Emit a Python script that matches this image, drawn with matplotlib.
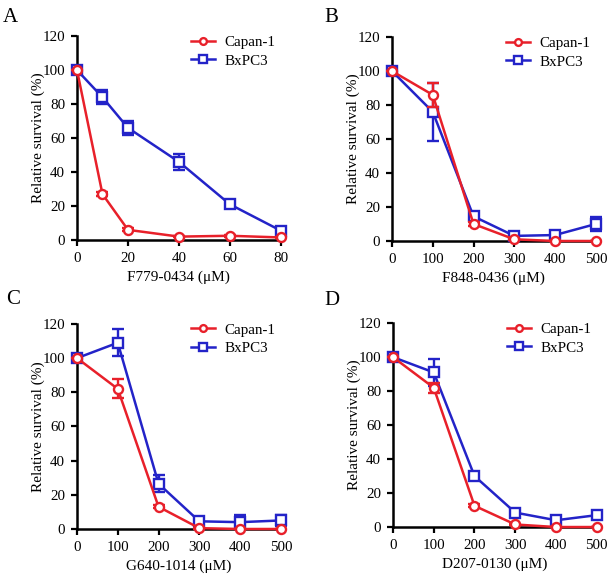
import matplotlib
matplotlib.use("Agg")
from matplotlib import pyplot as plt

plt.rcParams['font.family'] = ['Liberation Serif', 'DejaVu Serif']

RED = '#e8202a'
BLUE = '#2323c8'

# panel A
a_x = [0, 10, 20, 40, 60, 80]
a_capan = [100, 27, 6, 2, 2.5, 1.5]
a_capan_err = [0, 1, 0.8, 0.5, 0.5, 0.5]
a_bx = [100, 84, 66, 46, 21, 5.5]
a_bx_err = [0, 4, 4, 4.5, 1, 1]

# panel B
b_x = [0, 100, 200, 300, 400, 500]
b_capan = [100, 86, 10, 1, 0, 0]
b_capan_err = [0, 7, 1, 0.5, 0, 0]
b_bx = [100, 76, 14.5, 3, 3.5, 10]
b_bx_err = [0, 17, 2, 1, 1, 4]

# panel C
c_x = [0, 100, 200, 300, 400, 500]
c_capan = [100, 82, 13, 0.5, 0, 0]
c_capan_err = [0, 5.5, 1, 0.3, 0, 0]
c_bx = [100, 109, 26.5, 4.5, 4, 5]
c_bx_err = [0, 8, 5, 1, 4, 3]

# panel D
d_x = [0, 100, 200, 300, 400, 500]
d_capan = [100, 82, 12.5, 1.5, 0, 0]
d_capan_err = [0, 3, 1, 0.5, 0, 0]
d_bx = [100, 91, 30, 8.5, 4, 7]
d_bx_err = [0, 8, 1.5, 1, 1, 1]

W, H = 614, 576

panels = [
    ('A', [0.1254, 0.5833, 0.332, 0.354], (3, 8), a_x, a_capan, a_capan_err, a_bx, a_bx_err,
     'F779-0434 (μM)', [0, 20, 40, 60, 80]),
    ('B', [0.6384, 0.5816, 0.332, 0.354], (324, 8), b_x, b_capan, b_capan_err, b_bx, b_bx_err,
     'F848-0436 (μM)', [0, 100, 200, 300, 400, 500]),
    ('C', [0.1254, 0.0816, 0.332, 0.356], (6, 290), c_x, c_capan, c_capan_err, c_bx, c_bx_err,
     'G640-1014 (μM)', [0, 100, 200, 300, 400, 500]),
    ('D', [0.640, 0.085, 0.332, 0.354], (324, 291), d_x, d_capan, d_capan_err, d_bx, d_bx_err,
     'D207-0130 (μM)', [0, 100, 200, 300, 400, 500]),
]

fig = plt.figure(figsize=(W / 100, H / 100), dpi=100)

for letter, rect, lpos, x, capan, capan_err, bx, bx_err, xlabel, xticks in panels:
    ax = fig.add_axes(rect)
    ax.errorbar(x, bx, yerr=bx_err, fmt='none', ecolor=BLUE, capsize=4,
                capthick=1.7, elinewidth=1.7, clip_on=False, zorder=3)
    ax.plot(x, bx, color=BLUE, lw=1.8, marker='s', ms=7, mfc='white',
            mec=BLUE, mew=1.7, label='BxPC3', clip_on=False, zorder=3)
    ax.errorbar(x, capan, yerr=capan_err, fmt='none', ecolor=RED, capsize=4,
                capthick=1.7, elinewidth=1.7, clip_on=False, zorder=4)
    ax.plot(x, capan, color=RED, lw=1.8, marker='o', ms=6.5, mfc='white',
            mec=RED, mew=1.7, label='Capan-1', clip_on=False, zorder=4)
    ax.set_xlim(0, xticks[-1])
    ax.set_ylim(0, 120)
    ax.set_xticks(xticks)
    ax.set_yticks([0, 20, 40, 60, 80, 100, 120])
    for s in ['top', 'right']:
        ax.spines[s].set_visible(False)
    for s in ['left', 'bottom']:
        ax.spines[s].set_linewidth(1.8)
    ax.tick_params(direction='out', length=4.5, width=1.6, labelsize=10.8, pad=4)
    ax.set_xlabel(xlabel, fontsize=11, labelpad=4)
    ax.set_ylabel('Relative survival (%)', fontsize=11, labelpad=-2)
    h, l = ax.get_legend_handles_labels()
    ax.legend(h[::-1], l[::-1], loc='upper right', bbox_to_anchor=(1.04, 1.07),
              frameon=False, fontsize=10.8, handlelength=1.6, handletextpad=0.6,
              labelspacing=0.35, markerscale=0.75)
    fig.text(lpos[0] / W, 1 - lpos[1] / H, letter, fontsize=15,
             ha='left', va='top')

fig.savefig('out.png', dpi=100)
